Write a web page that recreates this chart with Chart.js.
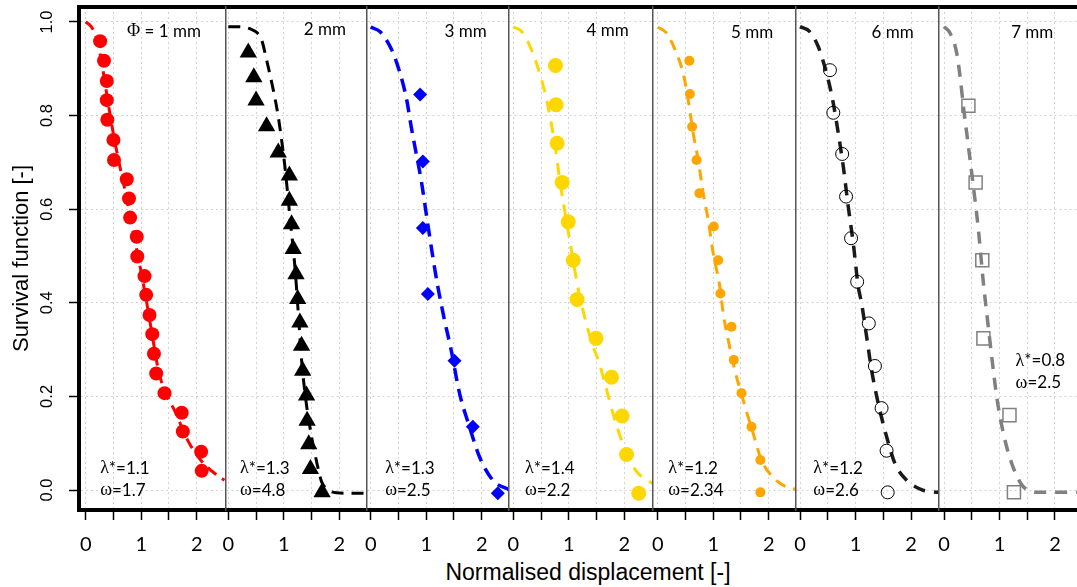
<!DOCTYPE html>
<html><head><meta charset="utf-8">
<script src="https://cdn.jsdelivr.net/npm/chart.js@4.4.1/dist/chart.umd.min.js"></script>
<style>
html,body{margin:0;padding:0;background:#fff;overflow:hidden}
#wrap{position:relative;width:1077px;height:587px;overflow:hidden;background:#fff}
#wrap canvas{position:absolute;top:0}
#xtitle{position:absolute;left:388px;width:400px;top:559px;line-height:26px;text-align:center;font-size:23px;font-family:"Liberation Sans",Arial,sans-serif;color:#000;white-space:nowrap}
</style></head><body>
<div id="wrap"><div id="xtitle">Normalised displacement [-]</div></div>
<script>
// ---------- data ----------
const xTicks = [0, 0.5, 1, 1.5, 2];
const yTicks = [0, 0.2, 0.4, 0.6, 0.8, 1.0];
const panelNames = ['Φ = 1 mm', '2 mm', '3 mm', '4 mm', '5 mm', '6 mm', '7 mm'];
const lambdaLabels = ['λ*=1.1', 'λ*=1.3', 'λ*=1.3', 'λ*=1.4', 'λ*=1.2', 'λ*=1.2', 'λ*=0.8'];
const omegaLabels = ['ω=1.7', 'ω=4.8', 'ω=2.5', 'ω=2.2', 'ω=2.34', 'ω=2.6', 'ω=2.5'];

const pts1X = [0.26, 0.33, 0.38, 0.38, 0.39, 0.50, 0.51, 0.74, 0.78, 0.80, 0.92, 0.93, 1.06, 1.09, 1.15, 1.20, 1.23, 1.27, 1.42, 1.73, 1.75, 2.08, 2.09];
const pts1Y = [0.959, 0.917, 0.874, 0.833, 0.791, 0.748, 0.705, 0.664, 0.623, 0.582, 0.541, 0.499, 0.457, 0.417, 0.374, 0.333, 0.291, 0.249, 0.207, 0.165, 0.125, 0.082, 0.041];
const fit1X = [0, 0.1, 0.2, 0.3, 0.4, 0.5, 0.6, 0.7, 0.8, 0.9, 1.0, 1.1, 1.2, 1.3, 1.4, 1.5, 1.6, 1.7, 1.8, 1.9, 2.0, 2.1, 2.2, 2.3, 2.4, 2.5];
const fit1Y = [1.0, 0.99, 0.965, 0.905, 0.83, 0.76, 0.70, 0.645, 0.585, 0.525, 0.465, 0.40, 0.33, 0.262, 0.218, 0.192, 0.17, 0.143, 0.115, 0.093, 0.075, 0.06, 0.048, 0.038, 0.029, 0.021];

const pts2X = [0.36, 0.46, 0.50, 0.69, 0.90, 1.10, 1.10, 1.14, 1.17, 1.22, 1.25, 1.29, 1.32, 1.34, 1.41, 1.42, 1.45, 1.48, 1.69];
const pts2Y = [0.935, 0.882, 0.832, 0.777, 0.721, 0.672, 0.618, 0.568, 0.515, 0.461, 0.408, 0.358, 0.308, 0.255, 0.202, 0.148, 0.098, 0.045, -0.005];
const fit2X = [0, 0.2, 0.42, 0.52, 0.6, 0.69, 0.81, 0.9, 0.96, 1.02, 1.11, 1.2, 1.26, 1.32, 1.4, 1.5, 1.56, 1.62, 1.68, 1.8, 1.95, 2.2, 2.5];
const fit2Y = [0.99, 0.99, 0.984, 0.977, 0.962, 0.919, 0.855, 0.798, 0.748, 0.691, 0.584, 0.477, 0.38, 0.278, 0.19, 0.114, 0.078, 0.045, 0.018, 0.0, -0.006, -0.007, -0.007];

const pts3X = [0.89, 0.94, 0.94, 1.03, 1.51, 1.84, 2.29];
const pts3Y = [0.845, 0.702, 0.560, 0.419, 0.276, 0.135, -0.007];
const fit3X = [0, 0.17, 0.38, 0.53, 0.65, 0.73, 0.82, 0.91, 1.0, 1.09, 1.21, 1.33, 1.45, 1.6, 1.78, 1.96, 2.2, 2.5];
const fit3Y = [0.989, 0.979, 0.94, 0.89, 0.833, 0.776, 0.719, 0.662, 0.591, 0.52, 0.434, 0.363, 0.299, 0.207, 0.135, 0.071, 0.021, 0.0];

const pts4X = [0.76, 0.77, 0.79, 0.88, 0.99, 1.08, 1.15, 1.49, 1.77, 1.96, 2.04, 2.26];
const pts4Y = [0.907, 0.823, 0.741, 0.657, 0.573, 0.491, 0.407, 0.324, 0.241, 0.158, 0.076, -0.007];
const fit4X = [0, 0.17, 0.35, 0.5, 0.62, 0.75, 0.85, 0.96, 1.07, 1.18, 1.29, 1.41, 1.54, 1.66, 1.81, 1.97, 2.2, 2.45, 2.55];
const fit4Y = [0.99, 0.977, 0.934, 0.88, 0.823, 0.737, 0.652, 0.573, 0.496, 0.423, 0.368, 0.316, 0.274, 0.224, 0.158, 0.1, 0.043, 0.018, 0.013];

const pts5X = [0.57, 0.58, 0.62, 0.70, 0.75, 1.01, 1.09, 1.13, 1.33, 1.37, 1.51, 1.69, 1.85, 1.85];
const pts5Y = [0.917, 0.846, 0.776, 0.705, 0.634, 0.563, 0.491, 0.420, 0.349, 0.278, 0.207, 0.135, 0.064, -0.005];
const fit5X = [0, 0.16, 0.34, 0.46, 0.55, 0.64, 0.73, 0.82, 0.91, 1.0, 1.12, 1.18, 1.27, 1.39, 1.54, 1.72, 1.87, 2.07, 2.31, 2.5];
const fit5Y = [0.989, 0.976, 0.933, 0.89, 0.833, 0.762, 0.705, 0.634, 0.577, 0.506, 0.434, 0.378, 0.321, 0.256, 0.192, 0.121, 0.064, 0.028, 0.007, 0.001];

const pts6X = [0.54, 0.60, 0.76, 0.83, 0.92, 1.03, 1.24, 1.35, 1.47, 1.56, 1.58];
const pts6Y = [0.897, 0.806, 0.718, 0.627, 0.538, 0.445, 0.356, 0.265, 0.175, 0.084, -0.005];
const fit6X = [0, 0.18, 0.33, 0.42, 0.51, 0.6, 0.69, 0.78, 0.87, 0.96, 1.05, 1.11, 1.2, 1.29, 1.41, 1.56, 1.71, 1.92, 2.21, 2.5];
const fit6Y = [0.99, 0.979, 0.947, 0.915, 0.876, 0.826, 0.762, 0.691, 0.605, 0.527, 0.434, 0.399, 0.328, 0.256, 0.185, 0.114, 0.057, 0.021, 0.0, -0.005];

const pts7X = [0.44, 0.57, 0.69, 0.71, 1.18, 1.26];
const pts7Y = [0.821, 0.657, 0.491, 0.324, 0.160, -0.005];
const fit7X = [0, 0.11, 0.23, 0.29, 0.35, 0.44, 0.53, 0.62, 0.71, 0.77, 0.86, 0.95, 1.07, 1.22, 1.43, 1.72, 2.5];
const fit7Y = [0.99, 0.976, 0.933, 0.883, 0.819, 0.734, 0.648, 0.556, 0.442, 0.378, 0.285, 0.199, 0.121, 0.057, 0.007, -0.005, -0.005];

// ---------- layout & style ----------
const panelPts = [[pts1X, pts1Y], [pts2X, pts2Y], [pts3X, pts3Y], [pts4X, pts4Y], [pts5X, pts5Y], [pts6X, pts6Y], [pts7X, pts7Y]];
const panelFit = [[fit1X, fit1Y], [fit2X, fit2Y], [fit3X, fit3Y], [fit4X, fit4Y], [fit5X, fit5Y], [fit6X, fit6Y], [fit7X, fit7Y]];
const panelLeft = [79, 226, 367, 509, 653, 796, 939];
const panelRight = [226, 367, 509, 653, 796, 939, 1083];
const panelZero = [85.7, 228.3, 370.7, 513.3, 657.7, 800, 944];
const unitPx = 55.5;
const yMin = -0.0427, yMax = 1.032;
const styles = [
  {color: '#FF0000', point: 'circle', r: 7, fill: true, lw: 3, dash: [11, 7]},
  {color: '#000000', point: 'triangle', r: 10, fill: true, lw: 3, dash: [12, 8]},
  {color: '#0000FF', point: 'rectRot', r: 7, fill: true, lw: 3.5, dash: [13, 8]},
  {color: '#FFD700', point: 'circle', r: 7.5, fill: true, lw: 3, dash: [12, 9]},
  {color: '#FFA500', point: 'circle', r: 5, fill: true, lw: 3, dash: [11, 8]},
  {color: '#1a1a1a', point: 'circle', r: 6.5, fill: false, mcolor: '#000000', mw: 1, lw: 3.5, dash: [12, 9]},
  {color: '#808080', point: 'rect', r: 9.2, fill: false, mcolor: '#808080', mw: 1.5, lw: 3.5, dash: [12, 9]}
];
const labelPos = [[1.41, 0.98], [1.74, 0.983], [1.71, 0.979], [1.70, 0.981], [1.70, 0.977], [1.67, 0.977], [1.59, 0.977]];
const paramPos = [[0.26, 0.047], [0.21, 0.047], [0.26, 0.047], [0.21, 0.047], [0.19, 0.047], [0.24, 0.047], [1.29, 0.276]];
const yLabelX = 47.5;

function drawRich(ctx, str, x, y, align) {
  const parts = [];
  for (const ch of str) {
    const g = /[\u0370-\u03FF]/.test(ch);
    if (parts.length && parts[parts.length - 1].g === g) parts[parts.length - 1].t += ch;
    else parts.push({t: ch, g});
  }
  const fontFor = g => g ? '18px "Liberation Serif", serif' : '17px Lato, sans-serif';
  let total = 0;
  parts.forEach(p => { ctx.font = fontFor(p.g); p.w = ctx.measureText(p.t).width; total += p.w; });
  let cx = align === 'center' ? x - total / 2 : x;
  ctx.textAlign = 'left';
  parts.forEach(p => { ctx.font = fontFor(p.g); ctx.fillText(p.t, cx, y); cx += p.w; });
}

const textPlugin = {
  id: 'panelText',
  afterDraw(chart) {
    const i = chart.options.plugins.panelText.index;
    const {ctx} = chart;
    const x = chart.scales.x, y = chart.scales.y;
    ctx.save();
    ctx.fillStyle = '#000';
    ctx.textBaseline = 'middle';
    drawRich(ctx, panelNames[i], x.getPixelForValue(labelPos[i][0]), y.getPixelForValue(labelPos[i][1]), 'center');
    const px = x.getPixelForValue(paramPos[i][0]), py = y.getPixelForValue(paramPos[i][1]);
    drawRich(ctx, lambdaLabels[i], px, py, 'left');
    drawRich(ctx, omegaLabels[i], px, py + 22, 'left');
    if (i === 0) {
      // rotated y tick labels (R style)
      ctx.font = '16.5px "Liberation Sans", Arial, sans-serif';
      ctx.textAlign = 'center';
      ctx.textBaseline = 'middle';
      y.ticks.forEach(t => {
        ctx.save();
        ctx.translate(yLabelX, y.getPixelForValue(t.value));
        ctx.rotate(-Math.PI / 2);
        ctx.fillText(t.value.toFixed(1), 0, 0);
        ctx.restore();
      });
    }
    ctx.restore();
  }
};

const wrap = document.getElementById('wrap');
const gridColor = '#d2d2d2';

function makeChart(i) {
  const left = panelLeft[i], right = panelRight[i];
  const axisW = i === 0 ? left : 6;
  const canvasLeft = left - axisW;
  const w = right - canvasLeft;
  const cv = document.createElement('canvas');
  cv.width = w; cv.height = 587;
  cv.style.left = canvasLeft + 'px';
  cv.style.width = w + 'px'; cv.style.height = '587px';
  wrap.appendChild(cv);
  const xMin = (left - panelZero[i]) / unitPx, xMax = (right - panelZero[i]) / unitPx;
  const st = styles[i];
  const pts = panelPts[i][0].map((v, k) => ({x: v, y: panelPts[i][1][k]}));
  const fit = panelFit[i][0].map((v, k) => ({x: v, y: panelFit[i][1][k]}));
  const first = i === 0;
  new Chart(cv, {
    type: 'scatter',
    data: {
      datasets: [
        {data: fit, showLine: true, borderColor: st.color, borderWidth: st.lw, borderDash: st.dash,
         pointRadius: 0, fill: false, cubicInterpolationMode: 'monotone', order: 2},
        {data: pts, showLine: false, pointStyle: st.point, pointRadius: st.r,
         backgroundColor: st.fill ? st.color : 'rgba(0,0,0,0)',
         borderColor: st.fill ? st.color : st.mcolor, borderWidth: st.fill ? 0 : st.mw, order: 1}
      ]
    },
    plugins: [textPlugin],
    options: {
      responsive: false, animation: false, devicePixelRatio: 1, events: [],
      layout: {padding: 0, autoPadding: false},
      plugins: {legend: {display: false}, tooltip: {enabled: false}, panelText: {index: i}},
      scales: {
        x: {
          type: 'linear', position: 'bottom', min: xMin, max: xMax,
          afterBuildTicks: s => { s.ticks = xTicks.map(v => ({value: v})); },
          afterFit: s => { s.height = 77; s.paddingLeft = 0; s.paddingRight = 0; },
          ticks: {autoSkip: false, maxRotation: 0, padding: 13, color: '#000',
                  font: {family: 'Lato', size: 20},
                  callback: v => Number.isInteger(v) ? String(v) : ''},
          grid: {color: gridColor, lineWidth: 1, drawTicks: true, tickLength: 10, tickColor: '#000', tickWidth: 1.5},
          border: {display: true, width: 4, color: '#000', dash: [2, 3]}
        },
        xTop: {
          type: 'linear', position: 'top', min: xMin, max: xMax,
          afterFit: s => { s.height = 7; s.paddingLeft = 0; s.paddingRight = 0; },
          ticks: {display: false},
          grid: {display: false, drawTicks: false},
          border: {display: true, width: 4, color: '#000'}
        },
        y: {
          type: 'linear', position: 'left', min: yMin, max: yMax,
          afterBuildTicks: s => { s.ticks = yTicks.map(v => ({value: v})); },
          afterFit: s => { s.width = axisW; s.paddingTop = 0; s.paddingBottom = 0; },
          ticks: {display: false},
          title: first ? {display: true, text: 'Survival function [-]', color: '#000',
                          font: {family: 'Liberation Sans', size: 22}, padding: {top: 9, bottom: 0}} : {display: false},
          grid: {color: gridColor, lineWidth: 1, drawTicks: first, tickLength: 10, tickColor: '#000', tickWidth: 1.5},
          border: first ? {display: true, width: 4, color: '#000', dash: [2, 3]}
                        : {display: true, width: 1.5, color: '#555', dash: [2, 3]}
        }
      }
    }
  });
}
for (let i = 0; i < 7; i++) makeChart(i);
</script>
</body></html>
